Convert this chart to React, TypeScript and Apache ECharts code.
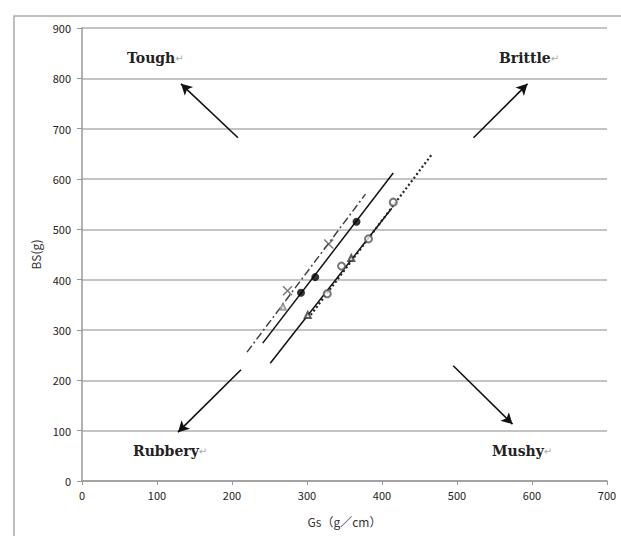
import React, { useEffect, useRef } from "react";
import * as echarts from "echarts";

// Axis ranges / ticks
const xTicksMax = 700;
const yTicksMax = 900;
const tickStep = 100;

// Regression lines (data coordinates of end points)
const lineCross: number[][] = [[220, 256], [378, 570]];
const lineFilled: number[][] = [[241, 274], [415, 612]];
const lineTriangle: number[][] = [[251, 234], [413, 542]];
const lineCircle: number[][] = [[305, 330], [466, 648]];

// Measured points
const crossPoints: number[][] = [[274, 378], [329, 471]];
const extraPoints: number[][] = [[268, 346]];
const filledPoints: number[][] = [[292, 374], [311, 405], [366, 515]];
const trianglePoints: number[][] = [[301, 330], [359, 443]];
const circlePoints: number[][] = [[327, 372], [346, 427], [382, 481], [415, 554]];

// Direction arrows (tail -> head)
const arrowTough: number[][] = [[208, 682], [132, 789]];
const arrowBrittle: number[][] = [[522, 682], [594, 789]];
const arrowRubbery: number[][] = [[212, 221], [128, 97]];
const arrowMushy: number[][] = [[495, 229], [574, 113]];

// Region labels
const regionLabels = ["Tough", "Brittle", "Rubbery", "Mushy"];

const CROSS =
  "path://M1,0 L5,4 L9,0 L10,1 L6,5 L10,9 L9,10 L5,6 L1,10 L0,9 L4,5 L0,1 Z";

export default function App() {
  const ref = useRef<HTMLDivElement>(null);
  useEffect(() => {
    if (!ref.current) return;
    const chart = echarts.init(ref.current, null, { renderer: "svg" });
    const labelFont = '"DejaVu Serif", "Liberation Serif", serif';
    const axisFont = '"Noto Sans CJK JP", "Noto Sans", sans-serif';
    const mkLabel = (t: string, x: number, y: number) => ({
      type: "text",
      x,
      y,
      silent: true,
      style: {
        text: `{a|${t}}{b|↵}`,
        verticalAlign: "middle",
        rich: {
          a: { fontFamily: labelFont, fontSize: 14, fontWeight: "bold", fill: "#222" },
          b: { fontFamily: '"DejaVu Sans"', fontSize: 10, fill: "#aaa" },
        },
      },
    });
    const arrow = (pts: number[][]) => ({
      type: "line",
      data: [],
      silent: true,
      markLine: {
        silent: true,
        symbol: ["none", "arrow"],
        symbolSize: [9, 11],
        label: { show: false },
        lineStyle: { color: "#111", width: 1.6, type: "solid" },
        emphasis: { disabled: true },
        data: [[{ coord: pts[0] }, { coord: pts[1] }]],
      },
    });
    const seg = (pts: number[][], color: string, width: number, type: any) => ({
      type: "line",
      data: pts,
      symbol: "none",
      silent: true,
      lineStyle: { color, width, type },
      z: 2,
    });
    const scat = (pts: number[][], symbol: string, size: number, style: any) => ({
      type: "scatter",
      data: pts,
      symbol,
      symbolSize: size,
      silent: true,
      itemStyle: style,
      z: 5,
    });
    chart.setOption({
      animation: false,
      backgroundColor: "#fff",
      grid: { left: 82, right: 14, top: 28, bottom: 55 },
      xAxis: {
        type: "value",
        min: 0,
        max: xTicksMax,
        interval: tickStep,
        name: "Gs（g／cm）",
        nameLocation: "middle",
        nameGap: 34,
        nameTextStyle: { fontFamily: axisFont, fontSize: 12, color: "#333" },
        axisLine: { show: true, lineStyle: { color: "#999", width: 1.5 } },
        axisTick: { show: true, length: 4, lineStyle: { color: "#999" } },
        axisLabel: { fontFamily: axisFont, fontSize: 11, color: "#222", margin: 8 },
        splitLine: { show: false },
      },
      yAxis: {
        type: "value",
        min: 0,
        max: yTicksMax,
        interval: tickStep,
        name: "BS(g)",
        nameLocation: "middle",
        nameGap: 41,
        nameTextStyle: { fontFamily: axisFont, fontSize: 12, color: "#333" },
        axisLine: { show: true, lineStyle: { color: "#999", width: 1.5 } },
        axisTick: { show: true, length: 5, lineStyle: { color: "#999" } },
        axisLabel: { fontFamily: axisFont, fontSize: 11, color: "#222", margin: 11 },
        splitLine: { show: true, lineStyle: { color: "#b0b0b0", width: 1.5 } },
      },
      graphic: [
        {
          type: "rect",
          silent: true,
          z: -10,
          shape: { x: 14, y: 16, width: 700, height: 600 },
          style: { fill: "none", stroke: "#aaa", lineWidth: 1.5 },
        },
        mkLabel(regionLabels[0], 127, 58),
        mkLabel(regionLabels[1], 499, 58),
        mkLabel(regionLabels[2], 133, 451),
        mkLabel(regionLabels[3], 492, 451),
      ],
      series: [
        seg(lineCross, "#444", 1.5, [8, 3, 2, 3]),
        seg(lineFilled, "#111", 1.5, "solid"),
        seg(lineTriangle, "#111", 1.5, "solid"),
        seg(lineCircle, "#222", 2.2, [2, 2.5]),
        scat(crossPoints, CROSS, 10, { color: "#555" }),
        scat(extraPoints, "emptyTriangle", 6, { color: "#888", borderColor: "#888", borderWidth: 1 }),
        scat(filledPoints, "circle", 8, { color: "#000" }),
        scat(trianglePoints, "emptyTriangle", 6, { color: "#333", borderColor: "#333", borderWidth: 1 }),
        scat(circlePoints, "emptyCircle", 7, { color: "#555", borderColor: "#555", borderWidth: 1 }),
        arrow(arrowTough),
        arrow(arrowBrittle),
        arrow(arrowRubbery),
        arrow(arrowMushy),
      ],
    });
    return () => chart.dispose();
  }, []);
  return (
    <div
      ref={ref}
      style={{ position: "fixed", left: 0, top: 0, width: 621, height: 536 }}
    />
  );
}
